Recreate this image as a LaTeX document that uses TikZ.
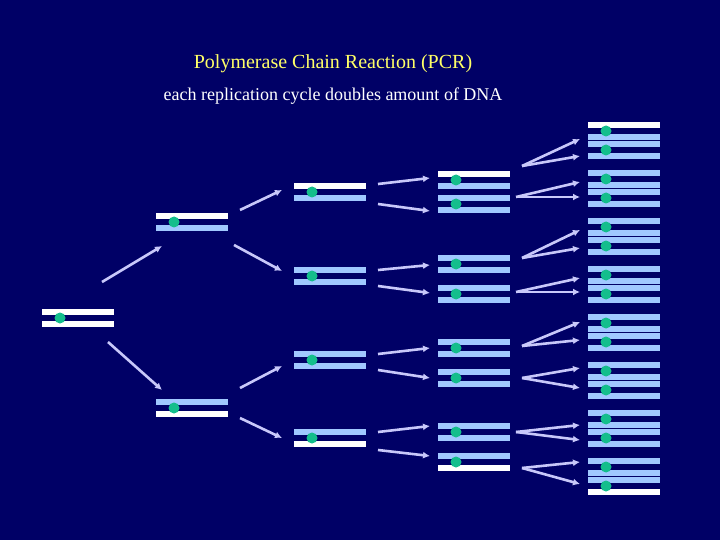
\documentclass[tikz,border=0pt]{standalone}
\usepackage{fontspec}
\setmainfont{Liberation Serif}
\usepackage{tikz}
\usetikzlibrary{arrows.meta}

\definecolor{bg}{RGB}{0,0,102}
\definecolor{strand}{RGB}{160,200,255}
\definecolor{primer}{RGB}{20,190,140}
\definecolor{arr}{RGB}{200,200,250}
\definecolor{ttl}{RGB}{255,255,102}

\tikzset{
  cyc/.style={arr, line width=2.6pt, -{Latex[length=7pt,width=7pt]}},
  dot/.style={circle, fill=primer, inner sep=0pt, minimum size=11pt}
}

% \mol{left x}{dot y}{upper strand colour}{lower strand colour}
\newcommand{\mol}[4]{
  \fill[#3] (#1,#2-9) rectangle +(72,6);
  \fill[#4] (#1,#2+3) rectangle +(72,6);
  \node[dot] at (#1+18,#2) {};
}

\begin{document}
\begin{tikzpicture}[x=1pt,y=-1pt]
\fill[bg] (0,0) rectangle (720,540);
\useasboundingbox (0,0) rectangle (720,540);

\node[ttl, font=\fontsize{20}{24}\selectfont] (title) at (333,64) {Polymerase Chain Reaction (PCR)};
\node[white, font=\fontsize{18}{22}\selectfont] (sub) at (333,96) {each replication cycle doubles amount of DNA};

% cycle 0 and 1
\mol{42}{318}{white}{white}
\mol{156}{222}{white}{strand}
\mol{156}{408}{strand}{white}

% cycle 2
\mol{294}{192}{white}{strand}
\mol{294}{276}{strand}{strand}
\mol{294}{360}{strand}{strand}
\mol{294}{438}{strand}{white}

% cycle 3
\mol{438}{180}{white}{strand}
\foreach \y in {204,264,294,348,378,432}{
  \mol{438}{\y}{strand}{strand}
}
\mol{438}{462}{strand}{white}

% cycle 4
\mol{588}{131}{white}{strand}
\foreach \g in {0,...,7}{
  \ifnum\g>0 \mol{588}{131+48*\g}{strand}{strand}\fi
  \ifnum\g<7 \mol{588}{150+48*\g}{strand}{strand}\fi
}
\mol{588}{486}{strand}{white}

% arrows
\draw[cyc] (102,282) -- (162,246);
\draw[cyc] (108,342) -- (162,390);
\draw[cyc] (240,210) -- (282,190);
\draw[cyc] (234,245) -- (282,271);
\draw[cyc] (240,388) -- (282,366);
\draw[cyc] (240,418) -- (282,438);
\foreach \a/\b in {184/178,204/211,270/265,286/293,354/348,370/378,432/426,450/456}{
  \draw[cyc] (378,\a) -- (430,\b);
}
\foreach \s/\sy/\ea/\eb in {522/166/139/156,516/197/182/197,522/258/230/248,516/292/278/292,522/346/322/340,522/378/368/388,516/432/425/440,522/468/462/484}{
  \draw[cyc] (\s,\sy) -- (580,\ea);
  \draw[cyc] (\s,\sy) -- (580,\eb);
}
\end{tikzpicture}
\end{document}
